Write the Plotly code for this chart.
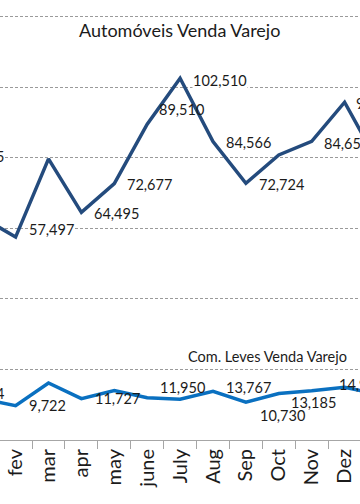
import plotly.graph_objects as go

# ---- data ----
categories = ["jan", "fev", "mar", "apr", "may", "june", "July", "Aug", "Sep", "Oct", "Nov", "Dez", "jan "]
auto_values = [63005, 57497, 79650, 64495, 72677, 89510, 102510, 84566, 72724, 80760, 84653, 95714, 78800]
leves_values = [11584, 9722, 16150, 11727, 14000, 11950, 11550, 13767, 10730, 13185, 13950, 14936, 13000]

auto_title = "Automóveis Venda Varejo"
leves_title = "Com. Leves Venda Varejo"

# ---- style ----
AUTO_COLOR = "#244B7D"
LEVES_COLOR = "#0A70C0"
FONT = "Lato"
TXT = "#1b1b1b"
GRID = "#9a9a9a"
LABEL_SIZE = 14.5

# data-label placement (index -> (xshift, yshift, white background)) ; style only
auto_label_pos = {1: (12, 8, True), 3: (12, -1, True), 4: (12, -1, True), 5: (11, 15, False),
                  6: (12, -2, True), 7: (12, -1, True), 8: (12, -1, True),
                  10: (11, -2, True), 11: (10, -1, True)}
leves_label_pos = {1: (12, 0, False), 3: (13, 0, False), 5: (12, 10, False), 7: (12, 4, False),
                   8: (13, -13, True), 9: (11, -9, False), 11: (-7, 3, False)}

fig = go.Figure()
fig.add_trace(go.Scatter(x=categories, y=auto_values, mode="lines",
                         line=dict(color=AUTO_COLOR, width=3.5), name=auto_title,
                         showlegend=False))
fig.add_trace(go.Scatter(x=categories, y=leves_values, mode="lines",
                         line=dict(color=LEVES_COLOR, width=3.5), name=leves_title,
                         showlegend=False))

def fmt(v):
    return f"{v:,}"

ann = []
for vals, pos in ((auto_values, auto_label_pos), (leves_values, leves_label_pos)):
    for i, (dx, dy, bg) in pos.items():
        ann.append(dict(x=categories[i], y=vals[i], xref="x", yref="y", text=fmt(vals[i]),
                        showarrow=False, xanchor="left", yanchor="middle",
                        xshift=dx, yshift=dy, bgcolor="white" if bg else "rgba(0,0,0,0)",
                        borderpad=0, font=dict(family=FONT, size=LABEL_SIZE, color=TXT)))

# first-month labels, cut at the left edge of the picture
ann.append(dict(x=0, y=auto_values[0], xref="paper", yref="y", text=fmt(auto_values[0]),
                showarrow=False, xanchor="right", yanchor="middle", xshift=5, yshift=61,
                bgcolor="white", borderpad=0, font=dict(family=FONT, size=LABEL_SIZE, color=TXT)))
ann.append(dict(x=0, y=leves_values[0], xref="paper", yref="y", text=fmt(leves_values[0]),
                showarrow=False, xanchor="right", yanchor="middle", xshift=5, yshift=6,
                borderpad=0, font=dict(family=FONT, size=LABEL_SIZE, color=TXT)))

# series titles
ann.append(dict(x=179 / 360, y=0.932, xref="paper", yref="paper", text=auto_title,
                showarrow=False, xanchor="center", yanchor="middle",
                font=dict(family=FONT, size=18, color=TXT)))
ann.append(dict(x=267 / 360, y=0.189, xref="paper", yref="paper", text=leves_title,
                showarrow=False, xanchor="center", yanchor="middle", bgcolor="white",
                font=dict(family=FONT, size=14.5, color=TXT)))

fig.update_layout(
    width=360, height=504,
    margin=dict(l=0, r=0, t=0, b=64),
    paper_bgcolor="white", plot_bgcolor="white",
    annotations=ann,
    xaxis=dict(type="category", range=[0.526, 11.468], tickson="boundaries",
               ticks="outside", ticklen=8, tickcolor="#a6a6a6", tickwidth=1,
               showline=True, linecolor="#a6a6a6", linewidth=1, showgrid=False,
               tickangle=-90, tickfont=dict(family=FONT, size=20, color=TXT)),
    yaxis=dict(range=[0, 124680], dtick=20000, tick0=0, showticklabels=False,
               showgrid=True, gridcolor=GRID, gridwidth=1, griddash="3px,2px",
               zeroline=False, showline=False, ticks=""),
)

fig.write_html("out.html")
